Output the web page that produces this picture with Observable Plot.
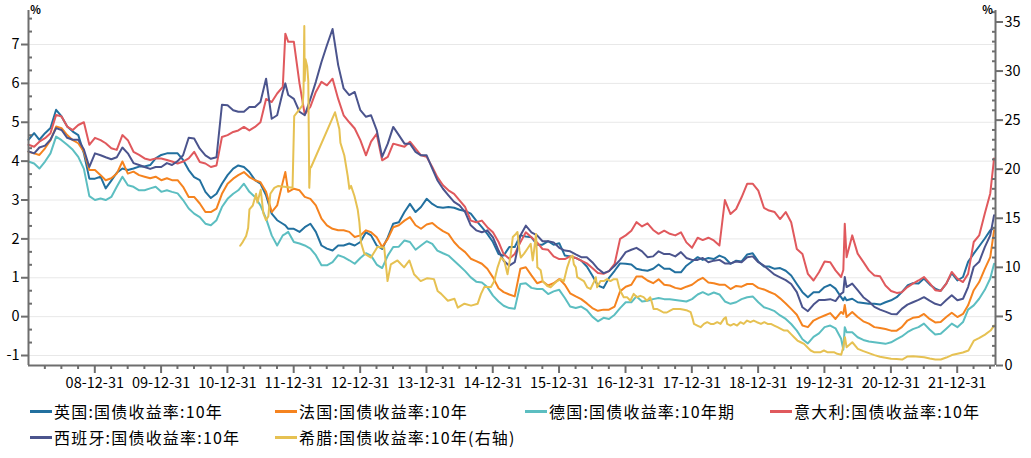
<!DOCTYPE html>
<html><head><meta charset="utf-8">
<script src="https://cdn.jsdelivr.net/npm/d3@7"></script>
<script src="https://cdn.jsdelivr.net/npm/@observablehq/plot@0.6"></script>
<style>
body{margin:0;background:#fff;font-family:"Noto Sans CJK SC","Noto Sans",sans-serif;}
#wrap{position:relative;width:1031px;height:458px;overflow:hidden;}
#legend{position:absolute;left:0;top:0;width:1031px;height:458px;}
.item{position:absolute;display:flex;align-items:center;height:22px;font-size:16px;letter-spacing:1.2px;color:#000;white-space:nowrap;}
.swatch{width:22px;height:3px;margin-right:2px;}
</style></head><body>
<div id="wrap"><div id="chart"></div><div id="legend"></div></div>
<script>
// ---------- data (monthly readings, plus a few extra dates) ----------
const dates = [
"2008-01-01","2008-02-01","2008-03-01","2008-04-01","2008-05-01","2008-06-01","2008-07-01","2008-08-01","2008-09-01","2008-10-01","2008-11-01","2008-12-01",
"2009-01-01","2009-02-01","2009-03-01","2009-04-01","2009-05-01","2009-06-01","2009-07-01","2009-08-01","2009-09-01","2009-10-01","2009-11-01","2009-12-01",
"2010-01-01","2010-02-01","2010-03-01","2010-04-01","2010-05-01","2010-06-01","2010-07-01","2010-08-01","2010-09-01","2010-10-01","2010-11-01","2010-12-01",
"2011-01-01","2011-02-01","2011-03-01","2011-04-01","2011-05-01","2011-06-01","2011-07-01","2011-08-01","2011-09-01","2011-10-01","2011-11-01","2011-11-15","2011-12-01",
"2012-01-01","2012-02-01","2012-03-01","2012-04-01","2012-05-01","2012-06-01","2012-07-01","2012-08-01","2012-09-01","2012-10-01","2012-11-01","2012-12-01",
"2013-01-01","2013-02-01","2013-03-01","2013-04-01","2013-05-01","2013-06-01","2013-07-01","2013-08-01","2013-09-01","2013-10-01","2013-11-01","2013-12-01",
"2014-01-01","2014-02-01","2014-03-01","2014-04-01","2014-05-01","2014-06-01","2014-07-01","2014-08-01","2014-09-01","2014-10-01","2014-11-01","2014-12-01",
"2015-01-01","2015-02-01","2015-03-01","2015-04-01","2015-05-01","2015-06-01","2015-07-01","2015-08-01","2015-09-01","2015-10-01","2015-11-01","2015-12-01",
"2016-01-01","2016-02-01","2016-03-01","2016-04-01","2016-05-01","2016-06-01","2016-07-01","2016-08-01","2016-09-01","2016-10-01","2016-11-01","2016-12-01",
"2017-01-01","2017-02-01","2017-03-01","2017-04-01","2017-05-01","2017-06-01","2017-07-01","2017-08-01","2017-09-01","2017-10-01","2017-11-01","2017-12-01",
"2018-01-01","2018-02-01","2018-03-01","2018-04-01","2018-05-01","2018-06-01","2018-07-01","2018-08-01","2018-09-01","2018-10-01","2018-11-01","2018-12-01",
"2019-01-01","2019-02-01","2019-03-01","2019-04-01","2019-05-01","2019-06-01","2019-07-01","2019-08-01","2019-09-01","2019-10-01","2019-11-01","2019-12-01",
"2020-01-01","2020-02-01","2020-03-01","2020-04-01","2020-04-13","2020-04-21","2020-05-01","2020-06-01","2020-07-01","2020-08-01","2020-09-01","2020-10-01","2020-11-01","2020-12-01",
"2021-01-01","2021-02-01","2021-03-01","2021-04-01","2021-05-01","2021-06-01","2021-07-01","2021-08-01","2021-09-01","2021-10-01","2021-11-01","2021-12-01",
"2022-01-01","2022-02-01","2022-03-01","2022-04-01","2022-05-01","2022-06-01","2022-07-01","2022-07-22"
];
const uk = [
4.55,4.72,4.55,4.72,4.85,5.32,5.15,4.89,4.76,4.67,4.2,3.55,
3.55,3.6,3.3,3.5,3.7,3.81,3.77,3.81,3.86,3.86,3.9,4.07,
4.16,4.2,4.2,4.2,4.03,3.77,3.59,3.51,3.21,3.05,3.16,3.42,
3.64,3.81,3.89,3.85,3.72,3.51,3.42,3.12,2.65,2.48,2.39,2.35,2.26,
2.26,2.18,2.3,2.39,2.18,1.83,1.75,1.7,1.83,1.83,1.88,1.83,
1.92,2.17,2.09,1.83,1.74,2.04,2.39,2.43,2.69,2.9,2.69,2.82,
3.03,2.9,2.82,2.8,2.82,2.8,2.75,2.72,2.65,2.47,2.3,2.13,
1.92,1.61,1.57,1.79,1.79,2.09,2.06,2.04,1.85,1.85,1.94,1.85,
1.89,1.57,1.55,1.51,1.44,1.29,1.06,0.8,0.74,1.0,1.18,1.37,
1.36,1.34,1.23,1.2,1.18,1.23,1.34,1.23,1.23,1.14,1.14,1.31,
1.42,1.53,1.46,1.51,1.48,1.57,1.51,1.36,1.44,1.42,1.6,1.63,
1.42,1.29,1.29,1.23,1.25,1.18,1.06,0.84,0.63,0.5,0.63,0.63,
0.76,0.82,0.72,0.5,0.42,0.5,0.42,0.46,0.37,0.35,0.33,0.33,0.31,0.37,
0.42,0.5,0.63,0.8,0.86,0.85,0.98,0.83,0.72,0.66,0.85,1.12,
0.93,1.02,1.41,1.62,1.81,2.01,2.22,2.29
];
const france = [
4.24,4.2,4.16,4.33,4.54,4.89,4.85,4.67,4.54,4.46,4.24,3.77,
3.77,3.64,3.51,3.56,3.68,3.99,3.68,3.73,3.64,3.6,3.56,3.6,
3.51,3.56,3.51,3.51,3.34,3.08,3.08,2.91,2.69,2.69,2.78,3.16,
3.42,3.55,3.64,3.72,3.59,3.51,3.46,3.21,2.69,2.86,3.46,3.72,3.21,
3.29,3.25,3.08,3.03,2.86,2.52,2.35,2.26,2.22,2.22,2.18,2.05,
2.09,2.22,2.17,2.04,1.79,2.0,2.3,2.35,2.47,2.56,2.35,2.26,
2.37,2.41,2.3,2.2,2.13,1.92,1.77,1.66,1.49,1.43,1.36,1.23,
1.01,0.73,0.63,0.57,0.52,1.23,1.27,1.06,0.86,0.91,0.8,0.86,
0.97,0.82,0.6,0.52,0.45,0.34,0.22,0.15,0.18,0.18,0.26,0.65,
0.77,0.82,1.03,1.03,0.93,0.86,0.96,0.82,0.8,0.74,0.71,0.77,
0.82,0.93,1.0,0.88,0.86,0.82,0.82,0.71,0.79,0.77,0.84,0.84,
0.74,0.7,0.64,0.58,0.47,0.34,0.2,0.05,-0.23,-0.27,-0.1,-0.03,
0.03,0.09,-0.06,0.12,0.07,0.3,-0.01,0.12,-0.01,-0.12,-0.18,-0.27,-0.29,-0.32,
-0.36,-0.36,-0.27,-0.1,-0.03,-0.01,0.07,-0.06,-0.15,-0.14,-0.01,0.1,
-0.01,0.07,0.29,0.68,0.89,1.23,1.53,2.22
];
const germany = [
3.99,3.94,3.81,3.99,4.2,4.63,4.54,4.42,4.29,4.11,3.8,3.1,
3.0,3.04,3.0,3.08,3.34,3.6,3.38,3.34,3.25,3.25,3.3,3.34,
3.21,3.25,3.21,3.17,3.0,2.78,2.65,2.56,2.39,2.35,2.48,2.82,
3.03,3.16,3.25,3.42,3.21,3.08,2.86,2.52,2.09,1.83,2.09,2.13,2.18,
1.92,1.88,1.83,1.75,1.58,1.32,1.32,1.4,1.58,1.53,1.45,1.36,
1.51,1.63,1.57,1.34,1.25,1.57,1.79,1.8,1.96,1.92,1.72,1.83,
1.94,1.87,1.7,1.63,1.57,1.44,1.31,1.17,1.01,0.9,0.88,0.76,
0.54,0.39,0.28,0.22,0.2,0.84,0.86,0.74,0.71,0.71,0.58,0.65,
0.69,0.48,0.26,0.22,0.26,0.17,0.0,-0.12,-0.03,-0.06,0.05,0.22,
0.37,0.37,0.52,0.39,0.41,0.45,0.48,0.45,0.45,0.43,0.41,0.39,
0.45,0.57,0.63,0.56,0.62,0.57,0.39,0.33,0.37,0.45,0.5,0.52,
0.37,0.24,0.2,0.14,0.03,-0.06,-0.19,-0.36,-0.58,-0.69,-0.52,-0.43,
-0.27,-0.23,-0.3,-0.57,-0.85,-0.27,-0.4,-0.4,-0.53,-0.6,-0.64,-0.66,-0.68,-0.7,
-0.66,-0.58,-0.51,-0.4,-0.32,-0.27,-0.18,-0.33,-0.46,-0.44,-0.31,-0.18,
-0.27,-0.14,0.18,0.29,0.46,0.69,0.98,1.36
];
const italy = [
4.42,4.37,4.5,4.59,4.72,5.19,5.15,4.89,4.8,4.93,5.0,4.42,
4.6,4.54,4.46,4.33,4.29,4.67,4.54,4.24,4.16,4.07,4.03,4.07,
4.07,4.03,3.99,3.94,3.99,4.07,4.24,3.98,3.94,3.85,3.89,4.62,
4.67,4.75,4.79,4.88,4.79,4.88,5.0,5.6,5.52,5.74,5.91,7.28,7.07,
7.07,6.0,5.2,5.4,5.78,6.04,5.95,6.12,5.6,5.18,5.0,4.84,
4.54,4.15,4.5,4.7,4.02,4.11,4.45,4.41,4.37,4.5,4.32,4.15,
4.11,3.85,3.59,3.38,3.25,3.16,2.99,2.82,2.47,2.43,2.47,2.3,
2.17,1.92,1.61,1.49,1.61,1.91,2.17,2.04,1.91,1.74,1.72,1.55,
1.48,1.48,1.55,1.51,1.44,1.37,1.25,1.12,1.1,1.17,1.36,2.0,
2.09,2.21,2.43,2.32,2.4,2.23,2.13,2.21,2.13,2.09,2.17,1.91,
1.77,2.03,1.97,2.03,1.96,1.83,3.0,2.64,2.77,3.07,3.42,3.42,
3.24,2.8,2.73,2.69,2.51,2.69,2.43,1.74,1.61,1.1,0.93,1.14,
1.42,1.4,1.19,1.02,1.2,2.39,1.53,2.09,1.62,1.41,1.19,1.06,1.04,0.8,
0.66,0.61,0.63,0.76,0.85,0.93,1.02,0.86,0.68,0.66,0.85,1.15,
0.98,0.89,1.1,1.92,2.09,2.65,3.17,4.07
];
const spain = [
4.25,4.2,4.35,4.4,4.55,4.85,4.8,4.6,4.55,4.55,4.3,3.85,
4.2,4.15,4.1,4.05,4.1,4.35,4.2,3.95,3.9,3.85,3.8,3.85,
3.85,3.95,3.9,4.0,4.15,4.6,4.58,4.32,4.15,4.06,4.1,5.45,
5.44,5.31,5.27,5.27,5.39,5.39,5.52,6.12,5.09,5.18,5.78,6.0,5.7,
5.6,5.27,5.18,5.6,6.04,6.55,6.98,7.4,6.47,5.87,5.7,5.78,
5.31,5.14,5.18,4.8,4.11,4.45,4.88,4.67,4.45,4.45,4.24,4.15,
4.15,3.81,3.51,3.29,3.12,2.95,2.86,2.69,2.35,2.22,2.17,2.22,
2.04,1.7,1.44,1.31,1.4,2.09,2.34,2.17,2.09,1.94,1.94,1.91,
1.77,1.7,1.68,1.6,1.53,1.53,1.4,1.23,1.12,1.17,1.31,1.46,
1.66,1.72,1.77,1.68,1.53,1.55,1.68,1.61,1.61,1.55,1.66,1.51,
1.46,1.46,1.51,1.4,1.44,1.46,1.37,1.37,1.42,1.4,1.53,1.55,
1.4,1.31,1.2,1.08,1.01,0.94,0.84,0.63,0.24,0.14,0.31,0.43,
0.43,0.45,0.4,0.59,0.63,1.02,0.76,0.85,0.68,0.5,0.39,0.25,0.18,0.13,
0.07,0.06,0.2,0.31,0.37,0.43,0.5,0.41,0.33,0.29,0.43,0.55,
0.42,0.46,0.76,1.28,1.41,1.79,2.09,2.61
];
// Greece (right axis), dates as decimal years
const greeceT = [
2011.19,2011.23,2011.28,2011.31,2011.33,2011.38,2011.43,2011.45,2011.50,2011.54,2011.58,2011.615,2011.645,2011.705,2011.765,
2011.98,2012.005,2012.13,2012.145,2012.157,2012.163,2012.175,2012.20,2012.217,2012.232,2012.245,2012.258,
2012.619,2012.684,2012.70,2012.759,2012.81,2012.835,2012.86,2012.91,2012.935,2012.96,2012.985,
2013.01,2013.06,2013.16,2013.26,2013.36,2013.41,2013.46,2013.56,2013.66,2013.74,2013.81,2013.91,
2014.01,2014.11,2014.165,2014.22,2014.32,2014.42,2014.47,2014.57,2014.67,2014.77,2014.82,2014.87,2014.97,
2015.02,2015.07,2015.12,2015.17,2015.22,2015.27,2015.30,2015.345,2015.37,2015.40,2015.42,2015.47,2015.52,2015.57,2015.60,2015.62,2015.65,2015.67,2015.72,2015.75,2015.82,2015.87,2015.92,2015.97,
2016.02,2016.07,2016.12,2016.17,2016.20,2016.22,2016.25,2016.27,2016.32,2016.37,2016.42,2016.47,2016.52,2016.55,2016.57,2016.62,2016.67,2016.72,2016.77,2016.82,2016.87,2016.90,2016.92,2016.97,
2017.02,2017.07,2017.12,2017.17,2017.22,2017.27,2017.32,2017.37,2017.40,2017.42,2017.47,2017.52,2017.57,2017.62,2017.67,2017.72,2017.77,2017.82,2017.88,2017.93,2017.98,
2018.01,2018.03,2018.08,2018.13,2018.18,2018.23,2018.28,2018.33,2018.38,2018.43,2018.48,2018.51,2018.53,2018.58,2018.63,2018.68,2018.73,2018.78,2018.83,2018.88,2018.93,2018.98,
2019.04,2019.09,2019.14,2019.19,2019.24,2019.29,2019.34,2019.39,2019.44,2019.49,2019.54,2019.59,2019.64,2019.69,2019.74,2019.79,2019.84,2019.89,2019.94,2019.99,
2020.04,2020.09,2020.14,2020.19,2020.25,2020.28,2020.306,2020.33,2020.417,2020.5,2020.583,2020.667,2020.75,2020.833,2020.917,
2021.0,2021.083,2021.167,2021.25,2021.333,2021.417,2021.5,2021.583,2021.667,2021.75,2021.833,2021.917,
2022.0,2022.083,2022.167,2022.25,2022.333,2022.417,2022.5,2022.555
];
const greece = [
12.2,12.6,13.2,14.0,15.9,16.3,17.5,16.6,17.9,15.5,14.8,15.2,17.5,18.1,18.3,
18.1,25.4,26.5,27.8,34.6,29.0,31.2,30.5,29.0,18.1,20.2,20.2,
25.8,24.1,22.7,21.4,19.3,18.0,18.3,17.3,16.6,15.9,14.6,
12.5,11.4,11.0,12.1,12.0,8.6,10.3,10.7,10.0,10.7,9.3,8.6,
8.9,8.8,7.6,7.3,6.6,6.8,5.9,6.3,6.1,6.3,7.3,8.0,8.0,
8.6,10.0,11.0,10.7,9.3,11.4,13.1,13.4,13.6,11.7,11.0,11.4,11.9,12.4,10.7,11.7,13.4,10.0,9.7,8.6,8.1,7.97,8.3,8.6,
8.8,8.6,10.0,11.0,11.2,10.3,10.0,9.0,8.8,8.6,7.97,7.8,8.5,9.0,7.97,8.6,8.6,8.8,8.6,8.8,8.8,7.97,7.6,6.96,
6.96,6.6,7.3,6.96,7.1,6.96,6.6,6.96,6.3,5.76,5.76,5.6,5.4,5.4,5.6,5.76,5.76,5.76,5.67,5.6,5.43,
4.75,4.24,4.07,3.9,4.24,4.41,4.24,4.24,4.41,4.24,4.75,4.92,4.24,4.07,4.24,4.07,4.41,4.24,4.58,4.41,4.58,4.41,
4.24,4.41,4.24,4.24,4.07,3.9,3.73,3.56,3.56,3.22,2.88,2.54,2.37,2.2,1.86,1.53,1.36,1.36,1.36,1.53,
1.36,1.36,1.36,1.19,1.1,1.87,2.88,1.87,2.37,1.7,1.46,1.26,1.06,0.9,0.8,
0.68,0.65,0.61,0.92,0.95,0.9,0.85,0.71,0.61,0.61,0.81,1.06,
1.19,1.33,1.53,2.54,2.81,3.15,3.56,4.07
];
const seriesNames = ["英国:国债收益率:10年","法国:国债收益率:10年","德国:国债收益率:10年期","意大利:国债收益率:10年","西班牙:国债收益率:10年","希腊:国债收益率:10年(右轴)"];
const seriesColors = ["#22709f","#f5831f","#5cbec1","#e0595d","#4b548d","#e6c152"];
const xTickLabels = ["2008-12-31","2009-12-31","2010-12-31","2011-12-31","2012-12-31","2013-12-31","2014-12-31","2015-12-31","2016-12-31","2017-12-31","2018-12-31","2019-12-31","2020-12-31","2021-12-31"];
const leftTicks = [-1,0,1,2,3,4,5,6,7];
const rightTicks = [0,5,10,15,20,25,30,35];

// ---------- scales ----------
const fromDec = t => { const y = Math.floor(t); const s = Date.UTC(y,0,1), e = Date.UTC(y+1,0,1); return new Date(s + (t - y) * (e - s)); };
const xStart = new Date("2008-01-01"), xEnd = fromDec(2022.575);
const yMin = -1.257, yMax = 7.875, rMax = 36.17;
const toLeft = r => yMin + r * (yMax - yMin) / rMax;
const toRight = v => (v - yMin) * rMax / (yMax - yMin);

const rows = dates.map((d, i) => ({date: new Date(d), uk: uk[i], france: france[i], germany: germany[i], italy: italy[i], spain: spain[i]}));
const gRows = greeceT.map((t, i) => ({date: fromDec(t), v: greece[i]}));

const leftMinor = d3.range(-3, 24).map(k => k / 3).filter(v => v > yMin && v < yMax && Math.abs(v - Math.round(v)) > 1e-6);
const rightMinor = d3.range(0, 37).filter(v => v % 5 !== 0 && v < rMax).map(toLeft);
const xMajor = xTickLabels.map(d => new Date(d));
const xMinor = [];
for (let y = 2008; y <= 2022; y++) for (const md of ["-03-31","-06-30","-09-30"]) { const d = new Date(y + md); if (d > xStart && d < xEnd) xMinor.push(d); }

const axisColor = "#6e6e6e";
const keys = ["uk","france","germany","italy","spain"];

const chart = Plot.plot({
  width: 1031, height: 395,
  marginLeft: 28, marginRight: 36, marginTop: 10, marginBottom: 30,
  x: {type: "utc", domain: [xStart, xEnd]},
  y: {domain: [yMin, yMax]},
  style: {fontFamily: '"Noto Sans CJK SC","Noto Sans",sans-serif', fontSize: "14.5px", color: "#000", background: "#fff"},
  marks: [
    Plot.gridY(leftTicks, {stroke: "#e8e8e8", strokeOpacity: 1, strokeWidth: 1}),
    ...keys.map((k, i) => Plot.line(rows, {x: "date", y: k, stroke: seriesColors[i], strokeWidth: 2})),
    Plot.line(gRows, {x: "date", y: d => toLeft(d.v), stroke: seriesColors[5], strokeWidth: 2}),
    Plot.ruleX([xStart], {stroke: axisColor, strokeWidth: 2}),
    Plot.ruleX([xEnd], {stroke: axisColor, strokeWidth: 2}),
    Plot.ruleY([yMin], {stroke: axisColor, strokeWidth: 2}),
    Plot.axisY(leftTicks, {anchor: "left", tickSize: 7, tickPadding: 2, stroke: axisColor, strokeWidth: 2, fill: "#000", label: null, tickFormat: d => (d < 0 ? "-" + Math.abs(d) : String(d))}),
    Plot.axisY(leftMinor, {anchor: "left", tickSize: 4, dx: 4, stroke: axisColor, strokeWidth: 2, label: null, tickFormat: () => ""}),
    Plot.axisY(rightTicks.map(toLeft), {anchor: "right", tickSize: 7, tickPadding: 2, stroke: axisColor, strokeWidth: 2, fill: "#000", label: null, tickFormat: v => String(Math.round(toRight(v)))}),
    Plot.axisY(rightMinor, {anchor: "right", tickSize: 4, dx: -4, stroke: axisColor, strokeWidth: 2, label: null, tickFormat: () => ""}),
    Plot.axisX(xMajor, {anchor: "bottom", tickSize: 8, tickPadding: 4, stroke: axisColor, strokeWidth: 2, fill: "#000", label: null, tickFormat: d3.utcFormat("%y-%m-%d")}),
    Plot.axisX(xMinor, {anchor: "bottom", tickSize: 4, stroke: axisColor, strokeWidth: 2, label: null, tickFormat: () => ""}),
    Plot.text(["%"], {frameAnchor: "top-left", dx: 7, textAnchor: "middle", lineAnchor: "middle", fontSize: 11, fontWeight: "bold"}),
    Plot.text(["%"], {frameAnchor: "top-right", dx: -8, textAnchor: "middle", lineAnchor: "middle", fontSize: 11, fontWeight: "bold"})
  ]
});
document.getElementById("chart").appendChild(chart);

// ---------- legend ----------
const legendPos = [[30,411],[275,411],[525,411],[770,411],[30,437],[275,437]];
const legend = document.getElementById("legend");
seriesNames.forEach((name, i) => {
  const it = document.createElement("div");
  it.className = "item";
  it.style.left = legendPos[i][0] + "px";
  it.style.top = (legendPos[i][1] - 11) + "px";
  const sw = document.createElement("span");
  sw.className = "swatch"; sw.style.background = seriesColors[i];
  const tx = document.createElement("span"); tx.textContent = name;
  it.appendChild(sw); it.appendChild(tx);
  legend.appendChild(it);
});
</script></body></html>
